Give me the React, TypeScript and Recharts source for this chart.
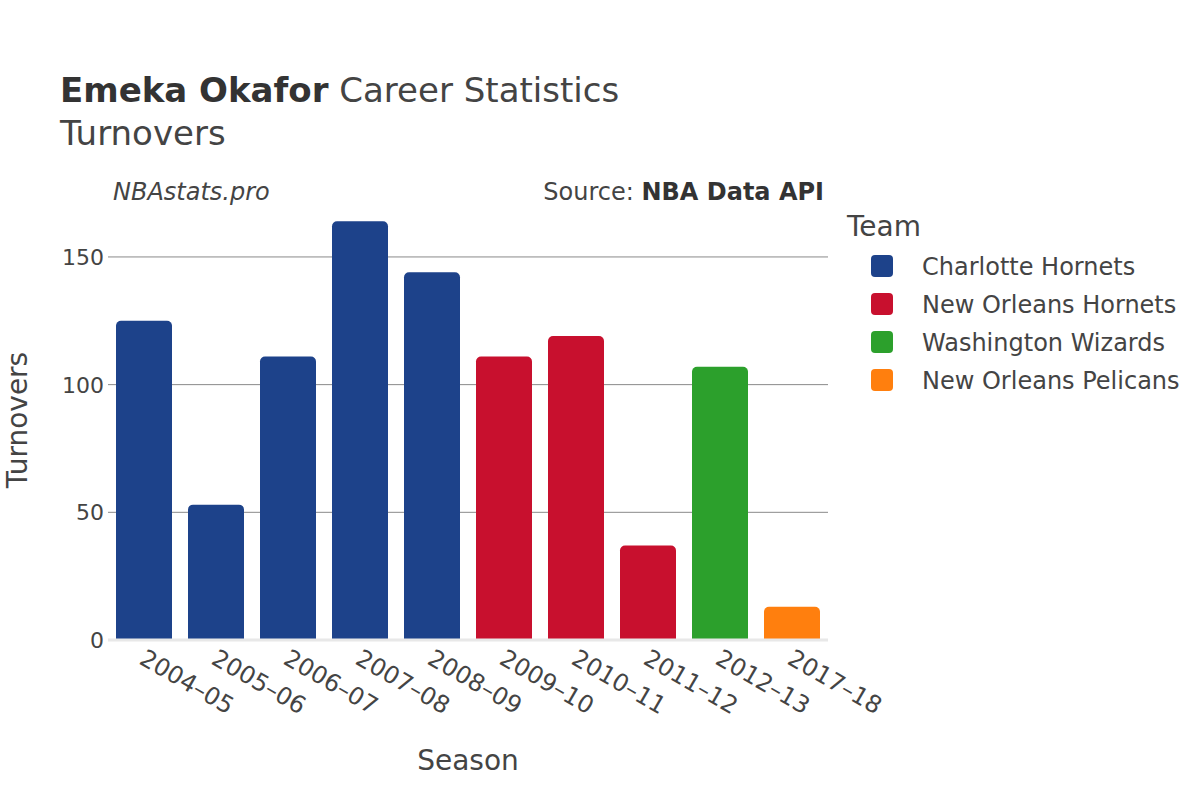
import React from 'react';
import { BarChart, Bar, XAxis, YAxis, CartesianGrid, ReferenceLine, Cell } from 'recharts';

const seasons = ['2004–05', '2005–06', '2006–07', '2007–08', '2008–09', '2009–10', '2010–11', '2011–12', '2012–13', '2017–18'];
const turnovers = [125, 53, 111, 164, 144, 111, 119, 37, 107, 13];
const seasonTeams = [
  'Charlotte Hornets', 'Charlotte Hornets', 'Charlotte Hornets', 'Charlotte Hornets', 'Charlotte Hornets',
  'New Orleans Hornets', 'New Orleans Hornets', 'New Orleans Hornets',
  'Washington Wizards', 'New Orleans Pelicans',
];
const teams = ['Charlotte Hornets', 'New Orleans Hornets', 'Washington Wizards', 'New Orleans Pelicans'];
const teamColors = ['#1d428a', '#c8102e', '#2ca02c', '#ff7f0e'];
const yTicks = [0, 50, 100, 150];

const FONT = '"DejaVu Sans", sans-serif';
const colorOf = (team: string) => teamColors[teams.indexOf(team)];

const data = seasons.map((season, i) => ({ season, value: turnovers[i], team: seasonTeams[i] }));

const SeasonTick = ({ x, y, payload }: any) => (
  <text
    x={0}
    y={0}
    transform={`translate(${x - 6},${y + 15}) rotate(30)`}
    textAnchor="start"
    fontSize={24}
    fill="#444"
    fontFamily={FONT}
  >
    {payload.value}
  </text>
);

const CountTick = ({ x, y, payload }: any) => (
  <text x={x + 4} y={y} dy={8} textAnchor="end" fontSize={22} fill="#444" fontFamily={FONT}>
    {payload.value}
  </text>
);

export default function App() {
  return (
    <div style={{ position: 'absolute', left: 0, top: 0, width: 1200, height: 800, background: '#fff', fontFamily: FONT }}>
      <BarChart
        width={1200}
        height={800}
        data={data}
        margin={{ top: 200, right: 372, bottom: 80, left: 58 }}
      >
        <CartesianGrid vertical={false} horizontalValues={yTicks} stroke="#8a8a8a" strokeWidth={1} />
        <XAxis
          dataKey="season"
          axisLine={false}
          tickLine={false}
          interval={0}
          height={80}
          tick={<SeasonTick />}
        />
        <YAxis
          width={50}
          domain={[0, 172.3]}
          ticks={yTicks}
          axisLine={false}
          tickLine={false}
          tick={<CountTick />}
        />
        <ReferenceLine y={0} stroke="#e8e8e8" strokeWidth={3} />
        <Bar dataKey="value" barSize={56} radius={[5, 5, 0, 0]} isAnimationActive={false}>
          {data.map((d) => (
            <Cell key={d.season} fill={colorOf(d.team)} />
          ))}
        </Bar>

        {/* titles */}
        <text x={60} y={102} fontSize={34} fill="#333" fontFamily={FONT}>
          <tspan fontWeight="bold">Emeka Okafor</tspan>
          <tspan fill="#444"> Career Statistics</tspan>
        </text>
        <text x={60} y={145} fontSize={34} fill="#444" fontFamily={FONT}>Turnovers</text>
        <text x={113} y={200} fontSize={24} fontStyle="italic" fill="#444" fontFamily={FONT}>NBAstats.pro</text>
        <text x={824} y={200} fontSize={24} textAnchor="end" fill="#444" fontFamily={FONT}>
          Source: <tspan fontWeight="bold" fill="#333">NBA Data API</tspan>
        </text>

        {/* axis titles */}
        <text x={468} y={770} fontSize={28} textAnchor="middle" fill="#444" fontFamily={FONT}>Season</text>
        <text
          x={0}
          y={0}
          transform="translate(27,420) rotate(-90)"
          fontSize={28}
          textAnchor="middle"
          fill="#444"
          fontFamily={FONT}
        >
          Turnovers
        </text>

        {/* legend */}
        <text x={847} y={236} fontSize={28} fill="#444" fontFamily={FONT}>Team</text>
        {teams.map((team, i) => (
          <g key={team}>
            <rect x={871} y={255 + i * 38} width={22} height={22} rx={4} fill={teamColors[i]} />
            <text x={922} y={275 + i * 38} fontSize={24} fill="#444" fontFamily={FONT}>{team}</text>
          </g>
        ))}
      </BarChart>
    </div>
  );
}
